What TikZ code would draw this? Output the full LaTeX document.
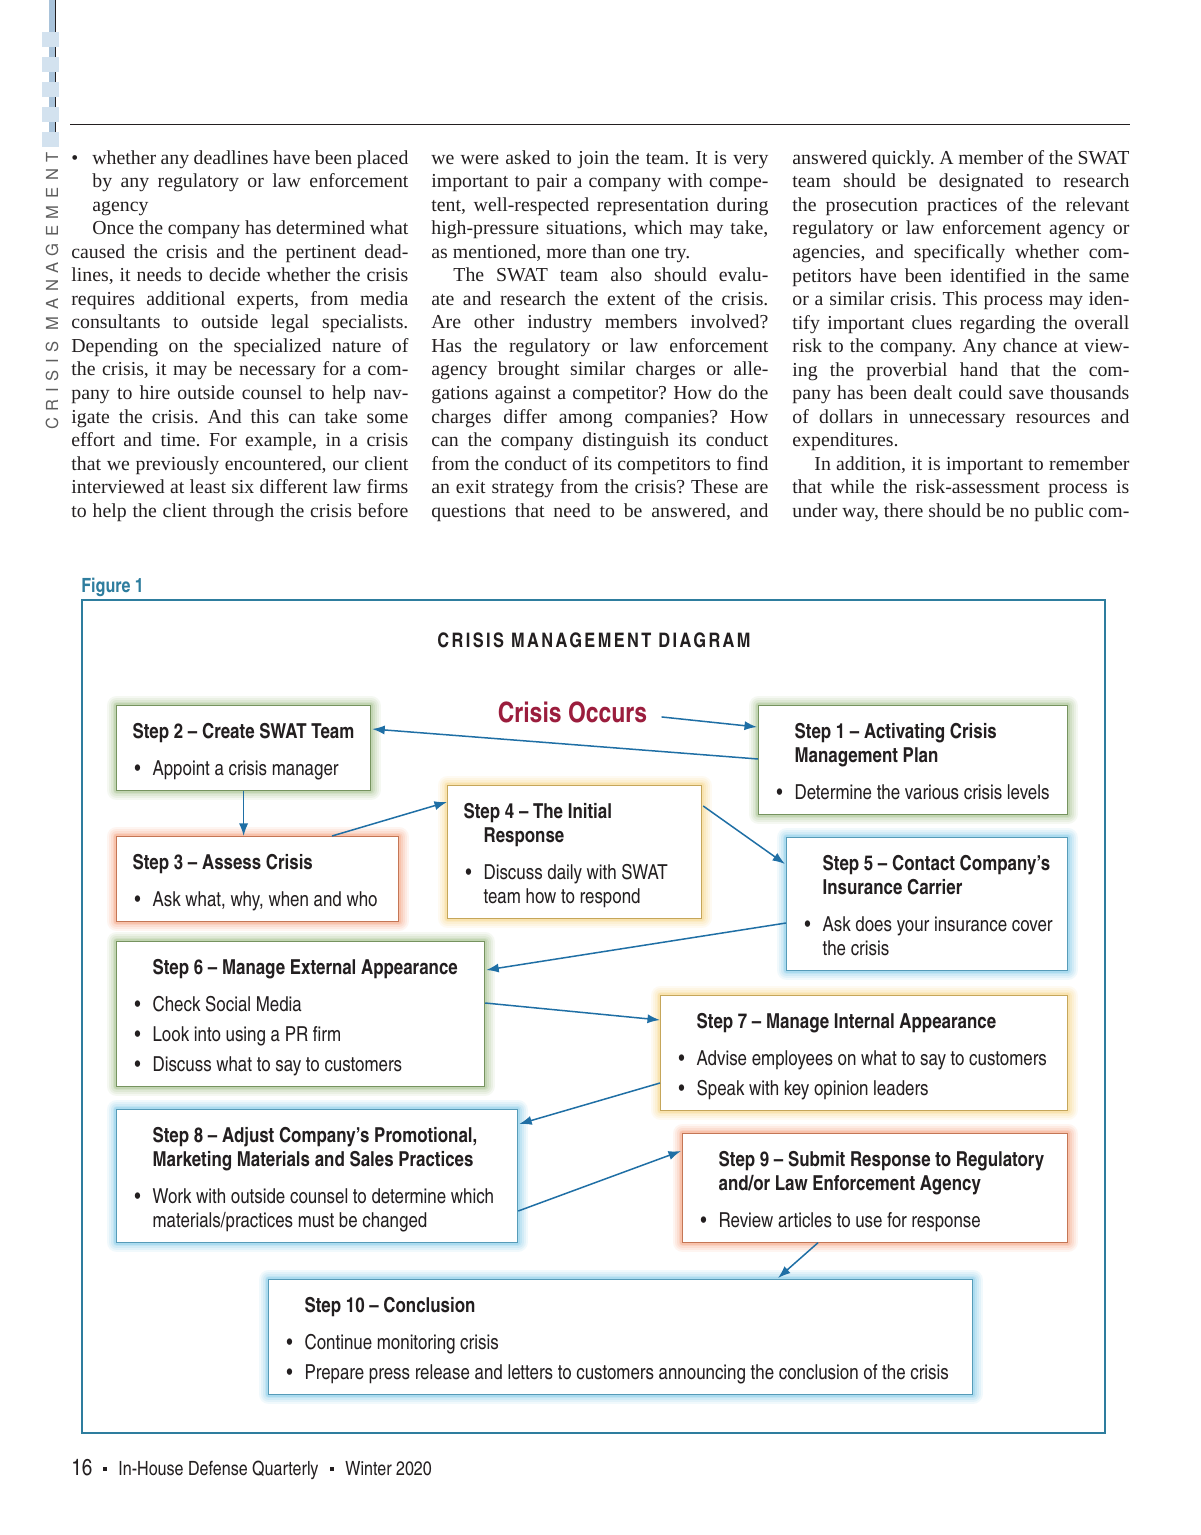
\documentclass[tikz,border=0pt]{standalone}
\usepackage{fontspec}
\setmainfont{Liberation Serif}
\newfontfamily\condfont{texgyreheroscn}[Extension=.otf,UprightFont=*-regular,BoldFont=*-bold]
\newfontfamily\condspaced{texgyreheroscn}[Extension=.otf,UprightFont=*-bold,LetterSpace=12]
\newfontfamily\sidefont{TeX Gyre Heros}[LetterSpace=40]
\usetikzlibrary{arrows.meta,calc,positioning}
\definecolor{figblue}{HTML}{2E7D9E}
\definecolor{arrowblue}{HTML}{1F6FA5}
\definecolor{crisisred}{HTML}{9B1D3D}
\definecolor{greenbox}{HTML}{93B877}
\definecolor{orangebox}{HTML}{F5946A}
\definecolor{yellowbox}{HTML}{F6CF70}
\definecolor{cyanbox}{HTML}{6CC2E6}
\definecolor{inkgray}{HTML}{231F20}
\definecolor{sidegray}{HTML}{5E5E5E}
\definecolor{barblue}{HTML}{A9C3DA}
\definecolor{barlight}{HTML}{D3E2EF}
\hbadness=10000 \hfuzz=60pt
\frenchspacing
\newcommand\natsp{\spaceskip=0pt\xspaceskip=0pt\relax}
% box contents
\newcommand\boxtop{\rule{0pt}{16.5pt}}
\newcommand\boxend{\rule[-7.5pt]{0pt}{7.5pt}}
\newcommand\itm[1]{\hspace*{1pt}\makebox[9pt][l]{\textbullet}\mbox{\natsp #1}}
\newcommand\ttl[1]{\mbox{\natsp\bfseries #1}}
\newcommand\cont[1]{\hspace*{10pt}\mbox{\natsp #1}}
\newcommand\ind{\hspace*{10pt}}
% page columns
\newcommand\jl[1]{\hbox to\hsize{\natsp #1}}
\newcommand\lastln[1]{\hbox{\natsp #1}}
\newcommand\pin{\hskip10.5pt\relax}

\begin{document}
\begin{tikzpicture}[x=0.5pt,y=-0.5pt,
  stepbox/.style={draw=#1!80!black,line width=0.6pt,fill=white,anchor=north west,
                  inner xsep=8pt,inner ysep=0pt,align=left,text=inkgray,
                  font=\condfont\fontsize{10.3}{12}\selectfont,
                  preaction={draw=#1,line width=10pt,draw opacity=0.09,line join=round},
                  preaction={draw=#1,line width=8pt,draw opacity=0.11,line join=round},
                  preaction={draw=#1,line width=6pt,draw opacity=0.13,line join=round},
                  preaction={draw=#1,line width=4pt,draw opacity=0.17,line join=round},
                  preaction={draw=#1,line width=2.4pt,draw opacity=0.24,line join=round}},
  coltext/.style={anchor=north west,inner sep=0pt,text width=168.5pt,text=inkgray,
                  font=\fontsize{9.9}{11.77}\selectfont},
  label/.style={inner sep=0pt,text=inkgray},
  arr/.style={-{Latex[length=2.2mm,width=1.6mm]},line width=0.75pt,arrowblue}
]
  \fill[white] (0,0) rectangle (1200,1535);
  \useasboundingbox (0,0) rectangle (1200,1535);

  % margin bar
  \fill[barblue] (49,0) rectangle (56,147);
  \draw[inkgray,line width=0.5pt] (55,0) -- (55,140);
  \foreach \y in {32,57,82,107,132}
    \fill[barlight] (42,\y) rectangle (59,\y+15);
  \node[label,rotate=90,text=sidegray,font=\sidefont\fontsize{8.3}{9}\selectfont] (side) at (52,291) {CRISIS MANAGEMENT};
  \draw[inkgray,line width=0.5pt] (70,125) -- (1130,125);

  \node[coltext] (col1) at (71,150) {%
    \jl{\hbox to10.5pt{\textbullet\hss}whether any deadlines have been placed}
    \jl{\pin by any regulatory or law enforcement}
    \lastln{\pin agency}
    \jl{\pin Once the company has determined what}
    \jl{caused the crisis and the pertinent dead-}
    \jl{lines, it needs to decide whether the crisis}
    \jl{requires additional experts, from media}
    \jl{consultants to outside legal specialists.}
    \jl{Depending on the specialized nature of}
    \jl{the crisis, it may be necessary for a com-}
    \jl{pany to hire outside counsel to help nav-}
    \jl{igate the crisis. And this can take some}
    \jl{effort and time. For example, in a crisis}
    \jl{that we previously encountered, our client}
    \jl{interviewed at least six different law firms}
    \jl{to help the client through the crisis before}};
  \node[coltext] (col2) at (431,150) {%
    \jl{we were asked to join the team. It is very}
    \jl{important to pair a company with compe-}
    \jl{tent, well-respected representation during}
    \jl{high-pressure situations, which may take,}
    \lastln{as mentioned, more than one try.}
    \jl{\hskip11pt\relax The SWAT team also should evalu-}
    \jl{ate and research the extent of the crisis.}
    \jl{Are other industry members involved?}
    \jl{Has the regulatory or law enforcement}
    \jl{agency brought similar charges or alle-}
    \jl{gations against a competitor? How do the}
    \jl{charges differ among companies? How}
    \jl{can the company distinguish its conduct}
    \jl{from the conduct of its competitors to find}
    \jl{an exit strategy from the crisis? These are}
    \jl{questions that need to be answered, and}};
  \node[coltext] (col3) at (792,150) {%
    \jl{answered quickly. A member of the SWAT}
    \jl{team should be designated to research}
    \jl{the prosecution practices of the relevant}
    \jl{regulatory or law enforcement agency or}
    \jl{agencies, and specifically whether com-}
    \jl{petitors have been identified in the same}
    \jl{or a similar crisis. This process may iden-}
    \jl{tify important clues regarding the overall}
    \jl{risk to the company. Any chance at view-}
    \jl{ing the proverbial hand that the com-}
    \jl{pany has been dealt could save thousands}
    \jl{of dollars in unnecessary resources and}
    \lastln{expenditures.}
    \jl{\hskip11pt\relax In addition, it is important to remember}
    \jl{that while the risk-assessment process is}
    \jl{under way, there should be no public com-}};

  % figure
  \node[label,anchor=base west,text=figblue,font=\condfont\bfseries\fontsize{9.8}{12}\selectfont] (figlabel) at (81,592) {Figure 1};
  \draw[figblue,line width=1.1pt] (82,600) rectangle (1105,1433);
  \node[label,anchor=base,font=\condspaced\fontsize{10}{12}\selectfont] (title) at (594,647) {CRISIS MANAGEMENT DIAGRAM};
  \node[label,anchor=base,text=crisisred,font=\condfont\bfseries\fontsize{14}{16}\selectfont] (occurs) at (572.5,722) {Crisis Occurs};

  \node[stepbox=greenbox,text width=111pt] (s2) at (116,705) {\boxtop\ttl{Step 2 – Create SWAT Team}\\[6.25pt]
    \itm{Appoint a crisis manager}\boxend};
  \node[stepbox=greenbox,text width=138.5pt] (s1) at (758,705) {\boxtop\ind\ttl{Step 1 – Activating Crisis}\\
    \ind\ttl{Management Plan}\\[6.25pt]
    \itm{Determine the various crisis levels}\boxend};
  \node[stepbox=yellowbox,text width=111pt] (s4) at (447,785) {\boxtop\ttl{Step 4 – The Initial}\\
    \ind\ttl{Response}\\[6.25pt]
    \itm{Discuss daily with SWAT}\\
    \cont{team how to respond}\boxend};
  \node[stepbox=orangebox,text width=125pt] (s3) at (116,836) {\boxtop\ttl{Step 3 – Assess Crisis}\\[6.25pt]
    \itm{Ask what, why, when and who}\boxend};
  \node[stepbox=cyanbox,text width=124.5pt] (s5) at (786,837) {\boxtop\ind\ttl{Step 5 – Contact Company’s}\\
    \ind\ttl{Insurance Carrier}\\[6.25pt]
    \itm{Ask does your insurance cover}\\
    \cont{the crisis}\boxend};
  \node[stepbox=greenbox,text width=168pt] (s6) at (116,941) {\boxtop\ind\ttl{Step 6 – Manage External Appearance}\\[6.25pt]
    \itm{Check Social Media}\\[3pt]
    \itm{Look into using a PR firm}\\[3pt]
    \itm{Discuss what to say to customers}\boxend};
  \node[stepbox=yellowbox,text width=187.5pt] (s7) at (660,995) {\boxtop\ind\ttl{Step 7 – Manage Internal Appearance}\\[6.25pt]
    \itm{Advise employees on what to say to customers}\\[3pt]
    \itm{Speak with key opinion leaders}\boxend};
  \node[stepbox=cyanbox,text width=184.5pt] (s8) at (116,1109) {\boxtop\ind\ttl{Step 8 – Adjust Company’s Promotional,}\\
    \ind\ttl{Marketing Materials and Sales Practices}\\[6.25pt]
    \itm{Work with outside counsel to determine which}\\
    \cont{materials/practices must be changed}\boxend};
  \node[stepbox=orangebox,text width=176.5pt] (s9) at (682,1133) {\boxtop\ind\ttl{Step 9 – Submit Response to Regulatory}\\
    \ind\ttl{and/or Law Enforcement Agency}\\[6.25pt]
    \itm{Review articles to use for response}\boxend};
  \node[stepbox=cyanbox,text width=336pt] (s10) at (268,1279) {\boxtop\ind\ttl{Step 10 – Conclusion}\\[6.25pt]
    \itm{Continue monitoring crisis}\\[3pt]
    \itm{Prepare press release and letters to customers announcing the conclusion of the crisis}\boxend};

  \draw[arr] ($(occurs.east)+(14,5)$) -- ($(s1.north west)+(-1,22)$);
  \draw[arr] ($(s1.north west)+(0,54)$) -- ($(s2.north east)+(1,24)$);
  \draw[arr] (s2.south) -- (s2.south |- s3.north);
  \draw[arr] ($(s3.north west)+(216,0)$) -- ($(s4.north west)+(0,17)$);
  \draw[arr] ($(s4.north east)+(1,21)$) -- ($(s5.north west)+(-1,27)$);
  \draw[arr] ($(s5.north west)+(0,86)$) -- ($(s6.north east)+(1,29)$);
  \draw[arr] ($(s6.north east)+(0,62)$) -- ($(s7.north west)+(0,25)$);
  \draw[arr] ($(s7.north west)+(0,88)$) -- ($(s8.north east)+(1,15)$);
  \draw[arr] ($(s8.north east)+(0,102)$) -- ($(s9.north west)+(-1,18)$);
  \draw[arr] ($(s9.south west)+(136,0)$) -- ($(s10.north west)+(510,-1)$);

  % footer
  \node[label,anchor=base west,font=\condfont\fontsize{11.5}{12}\selectfont] (pgnum) at (71,1475) {16};
  \fill[inkgray] (102.5,1466.5) rectangle (106.5,1470.5);
  \node[label,anchor=base west,font=\condfont\fontsize{9.8}{12}\selectfont] (journal) at (118,1475) {In-House Defense Quarterly};
  \fill[inkgray] (329.5,1466.5) rectangle (333.5,1470.5);
  \node[label,anchor=base west,font=\condfont\fontsize{9.8}{12}\selectfont] (issue) at (345,1475) {Winter 2020};
\end{tikzpicture}
\end{document}
